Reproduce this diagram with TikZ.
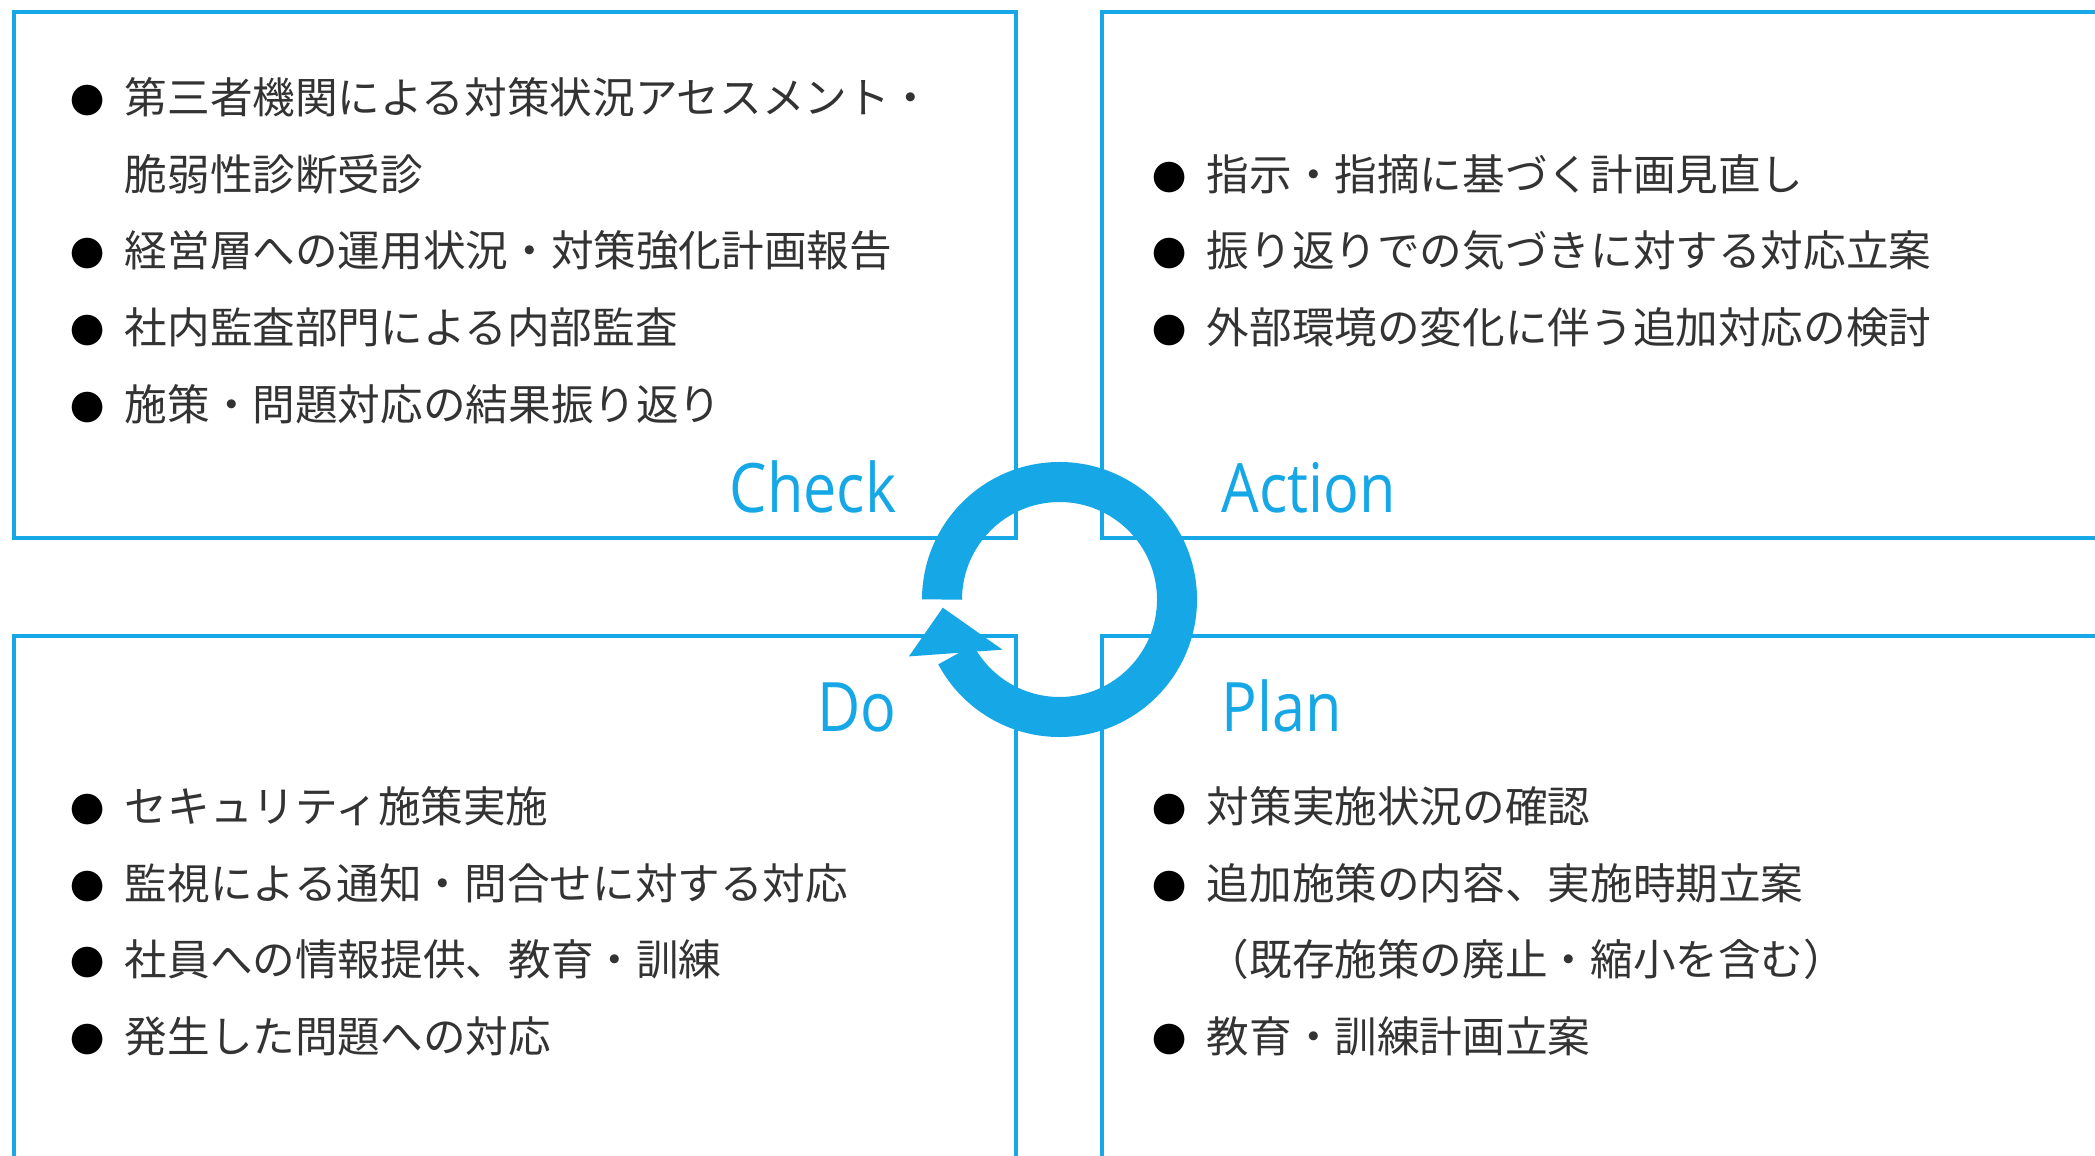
\documentclass[tikz,border=0pt]{standalone}
\usepackage{fontspec}
\usepackage{graphicx}
\newfontfamily\jpfont{Noto Sans CJK JP}
\newfontfamily\labelfont{Open Sans}[FakeStretch=0.87]
\definecolor{pdcablue}{HTML}{16A8E6}
\newcommand{\bul}{\makebox[1em]{\textcolor{black}{\scalebox{0.8}{●}}}\hspace{0.37em}}
\newcommand{\nobul}{\hspace*{1.37em}}

\begin{document}
\begin{tikzpicture}[x=0.01cm, y=-0.01cm,
    quad/.style={draw=pdcablue, line width=1.15pt, fill=white},
    item/.style={anchor=base west, inner sep=0pt, text=black!80, font=\jpfont\fontsize{12.12pt}{14pt}\selectfont},
    phase/.style={inner sep=0pt, text=pdcablue, font=\labelfont\fontsize{19.4pt}{22pt}\selectfont},
    ring/.style={draw=pdcablue, line width=0.4cm}]
    \def\leftx{65.7}
    \def\rightx{1147.7}
    \def\rowgap{76.5}

    % fixed frame of the picture
    \useasboundingbox (0,0) rectangle (2095,1155);
    \clip (0,0) rectangle (2095,1155);

    % the four quadrants
    \draw[quad] (14,12) rectangle (1016,538);
    \draw[quad] (1102,12) rectangle (2200,538);
    \draw[quad] (14,636) rectangle (1016,1250);
    \draw[quad] (1102,636) rectangle (2200,1250);

    % Check
    \node[item] (chk1) at (\leftx,114) {\bul 第三者機関による対策状況アセスメント・};
    \node[item] (chk2) at (\leftx,114+\rowgap) {\nobul 脆弱性診断受診};
    \node[item] (chk3) at (\leftx,114+2*\rowgap) {\bul 経営層への運用状況・対策強化計画報告};
    \node[item] (chk4) at (\leftx,114+3*\rowgap) {\bul 社内監査部門による内部監査};
    \node[item] (chk5) at (\leftx,114+4*\rowgap) {\bul 施策・問題対応の結果振り返り};
    \node[phase, anchor=base east] (check) at (897,512) {Check};

    % Action
    \node[item] (act1) at (\rightx,114+\rowgap) {\bul 指示・指摘に基づく計画見直し};
    \node[item] (act2) at (\rightx,114+2*\rowgap) {\bul 振り返りでの気づきに対する対応立案};
    \node[item] (act3) at (\rightx,114+3*\rowgap) {\bul 外部環境の変化に伴う追加対応の検討};
    \node[phase, anchor=base west] (action) at (1221,512) {Action};

    % Do
    \node[item] (do1) at (\leftx,822.5) {\bul セキュリティ施策実施};
    \node[item] (do2) at (\leftx,822.5+\rowgap) {\bul 監視による通知・問合せに対する対応};
    \node[item] (do3) at (\leftx,822.5+2*\rowgap) {\bul 社員への情報提供、教育・訓練};
    \node[item] (do4) at (\leftx,822.5+3*\rowgap) {\bul 発生した問題への対応};
    \node[phase, anchor=base east] (do) at (897,731) {Do};

    % Plan
    \node[item] (pln1) at (\rightx,822.5) {\bul 対策実施状況の確認};
    \node[item] (pln2) at (\rightx,822.5+\rowgap) {\bul 追加施策の内容、実施時期立案};
    \node[item] (pln3) at (\rightx,822.5+2*\rowgap) {\nobul （既存施策の廃止・縮小を含む）};
    \node[item] (pln4) at (\rightx,822.5+3*\rowgap) {\bul 教育・訓練計画立案};
    \node[phase, anchor=base west] (plan) at (1221,731) {Plan};

    % cycle arrow in the middle
    \coordinate (hub) at (1059.5,599.5);
    \draw[ring] (hub) ++(180:117.5) arc[start angle=180, end angle=512, radius=117.5];
    \fill[pdcablue] ([shift={(hub)}]159.3:161) -- ([shift={(hub)}]138.7:76) -- ([shift={(hub)}]176:117) -- cycle;
\end{tikzpicture}
\end{document}
